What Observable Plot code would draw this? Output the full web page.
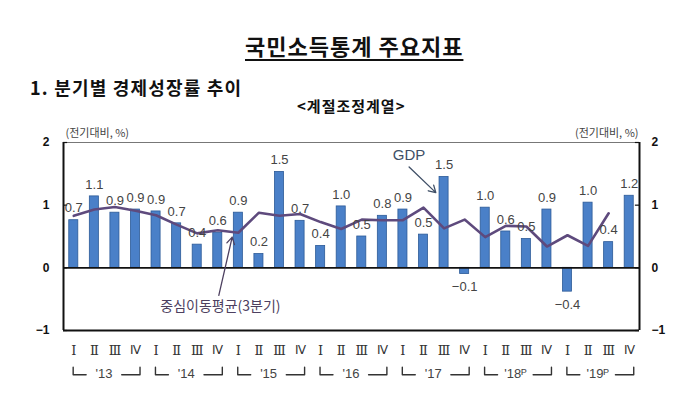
<!DOCTYPE html>
<html>
<head>
<meta charset="utf-8">
<script src="https://cdn.jsdelivr.net/npm/d3@7"></script>
<script src="https://cdn.jsdelivr.net/npm/@observablehq/plot@0.6"></script>
<style>
  body { margin: 0; background: #fff; }
  #wrap { position: relative; width: 700px; height: 401px; overflow: hidden; font-family: "Noto Sans CJK KR", sans-serif; color: #111; }
  #title { position: absolute; left: 245px; top: 29px; font-size: 22px; letter-spacing: 1px; font-weight: 700; text-decoration: underline; text-decoration-thickness: 2px; text-underline-offset: 4px; white-space: nowrap; }
  #sub { position: absolute; left: 30px; top: 74px; font-size: 18px; letter-spacing: 1.2px; font-weight: 700; white-space: nowrap; }
  #sub2 { position: absolute; left: 297px; top: 95px; font-size: 15px; letter-spacing: 1px; font-weight: 700; white-space: nowrap; }
  #chart { position: absolute; left: 0; top: 115px; }
</style>
</head>
<body>
<div id="wrap">
  <div id="title">국민소득통계 주요지표</div>
  <div id="sub">1. 분기별 경제성장률 추이</div>
  <div id="sub2">&lt;계절조정계열&gt;</div>
  <div id="chart"></div>
</div>
<script>
// ---- data ----
const quarterLabels = ["Ⅰ", "Ⅱ", "Ⅲ", "Ⅳ"];
const yearLabels = ["'13", "'14", "'15", "'16", "'17", "'18ᴾ", "'19ᴾ"];
const gdpGrowth = [0.76, 1.14, 0.88, 0.93, 0.90, 0.71, 0.37, 0.56, 0.88, 0.22, 1.53, 0.75, 0.35, 0.98, 0.50, 0.83, 0.93, 0.53, 1.45, -0.10, 0.96, 0.58, 0.46, 0.93, -0.38, 1.04, 0.41, 1.15];
const gdpLabels = ["0.7", "1.1", "0.9", "0.9", "0.9", "0.7", "0.4", "0.6", "0.9", "0.2", "1.5", "0.7", "0.4", "1.0", "0.5", "0.8", "0.9", "0.5", "1.5", "−0.1", "1.0", "0.6", "0.5", "0.9", "−0.4", "1.0", "0.4", "1.2"];
const movingAvg = [0.83, 0.93, 0.97, 0.91, 0.84, 0.69, 0.55, 0.60, 0.56, 0.88, 0.83, 0.86, 0.73, 0.62, 0.77, 0.76, 0.76, 0.96, 0.63, 0.77, 0.49, 0.67, 0.66, 0.34, 0.52, 0.35, 0.87, null];
const yTicks = [-1, 0, 1, 2];
const yTickLabels = ["−1", "0", "1", "2"];
const unitLabel = "(전기대비, %)";
const gdpNote = "GDP";
const maNote = "중심이동평균(3분기)";

// ---- table ----
const rows = gdpGrowth.map((v, i) => ({ i, v, label: gdpLabels[i], ma: movingAvg[i], q: quarterLabels[i % 4], qi: i % 4 }));
const years = yearLabels.map((t, k) => ({ k, t }));
const bracketPts = [];
years.forEach(({ k }) => {
  const s = 4 * k;
  bracketPts.push({ id: k + "L", x: s - 0.03, y: -1.585 }, { id: k + "L", x: s - 0.03, y: -1.705 }, { id: k + "L", x: s + 0.6, y: -1.705 });
  bracketPts.push({ id: k + "R", x: s + 2.33, y: -1.705 }, { id: k + "R", x: s + 3.22, y: -1.705 }, { id: k + "R", x: s + 3.22, y: -1.585 });
});
const tickFmt = d => yTickLabels[yTicks.indexOf(d)];

const sansKR = "'Noto Sans CJK KR', sans-serif";
const blue = "#4a80c8";

const chart = Plot.plot({
  width: 700,
  height: 286,
  marginLeft: 63,
  marginRight: 61,
  marginTop: 27,
  marginBottom: 71,
  style: { fontFamily: "'Liberation Sans', Arial, sans-serif", background: "#fff", overflow: "visible" },
  x: { domain: [-0.5, 27.5], axis: null },
  y: { domain: [-1, 2] },
  marks: [
    // frame
    Plot.ruleY([2], { stroke: "#777", strokeWidth: 1.2 }),
    Plot.ruleY([-1], { stroke: "#111", strokeWidth: 2 }),
    Plot.ruleX([-0.5, 27.5], { stroke: "#111", strokeWidth: 2 }),
    // inward ticks
    Plot.ruleY(yTicks, { y: d => d, x1: -0.5, x2: -0.3, stroke: "#111", strokeWidth: 1.2 }),
    Plot.ruleY(yTicks, { y: d => d, x1: 27.3, x2: 27.5, stroke: "#111", strokeWidth: 1.2 }),
    // axes
    Plot.axisY({ anchor: "left", ticks: yTicks, tickFormat: tickFmt, tickSize: 0, tickPadding: 14, fontSize: 12, fontWeight: "bold", fill: "#111" }),
    Plot.axisY({ anchor: "right", ticks: yTicks, tickFormat: tickFmt, tickSize: 0, tickPadding: 12, fontSize: 12, fontWeight: "bold", fill: "#111" }),
    // bars
    Plot.rect(rows, { x1: d => d.i - 0.22, x2: d => d.i + 0.22, y1: 0, y2: "v", fill: blue, stroke: "#2c5a98", strokeWidth: 0.8 }),
    Plot.ruleY([0], { stroke: "#111", strokeWidth: 1.6 }),
    // moving average line
    Plot.line(rows.filter(d => d.ma != null), { x: "i", y: "ma", stroke: "#5e4a7d", strokeWidth: 2.6, curve: "linear" }),
    // value labels
    Plot.text(rows.filter(d => d.v >= 0), { x: "i", y: "v", text: "label", dy: -12, fontSize: 13, fill: "#444", style: "letter-spacing:1px" }),
    Plot.text(rows.filter(d => d.v < 0), { x: "i", y: "v", text: "label", dy: 13, fontSize: 13, fill: "#444" }),
    // unit labels
    Plot.text([unitLabel], { x: -0.5, y: 2, dx: 2, dy: -9, textAnchor: "start", fontSize: 11, fill: "#444", fontFamily: sansKR }),
    Plot.text([unitLabel], { x: 27.5, y: 2, dx: -1, dy: -9, textAnchor: "end", fontSize: 11, fill: "#444", fontFamily: sansKR }),
    // annotations
    Plot.text([gdpNote], { x: 16.3, y: 1.79, fontSize: 15, fill: "#3f4f66" }),
    Plot.arrow([0], { x1: 16.3, y1: 1.61, x2: 17.6, y2: 1.2, stroke: "#3f4f66", strokeWidth: 1.3, headLength: 9 }),
    Plot.text([maNote], { x: 7.13, y: -0.617, fontSize: 14, fill: "#4d4060", fontFamily: sansKR }),
    Plot.arrow([0], { x1: 7.05, y1: -0.44, x2: 7.7, y2: 0.49, stroke: "#4d4060", strokeWidth: 1.3, headLength: 9 }),
    // x categories
    Plot.text(rows.filter(d => d.qi < 3), { x: "i", y: -1, dy: 20, text: "q", fontSize: 13, fill: "#333", fontFamily: "'DejaVu Serif', 'Liberation Serif', serif" }),
    Plot.text(rows.filter(d => d.qi === 3), { x: "i", y: -1, dy: 20, text: "q", fontSize: 12, fill: "#333", fontFamily: "'Liberation Sans', sans-serif" }),
    Plot.text(years, { x: d => 4 * d.k + 1.47, y: -1, dy: 43, text: "t", fontSize: 13, fill: "#444" }),
    Plot.line(bracketPts, { x: "x", y: "y", z: "id", stroke: "#333", strokeWidth: 1.4 })
  ]
});
document.getElementById("chart").appendChild(chart);
</script>
</body>
</html>
